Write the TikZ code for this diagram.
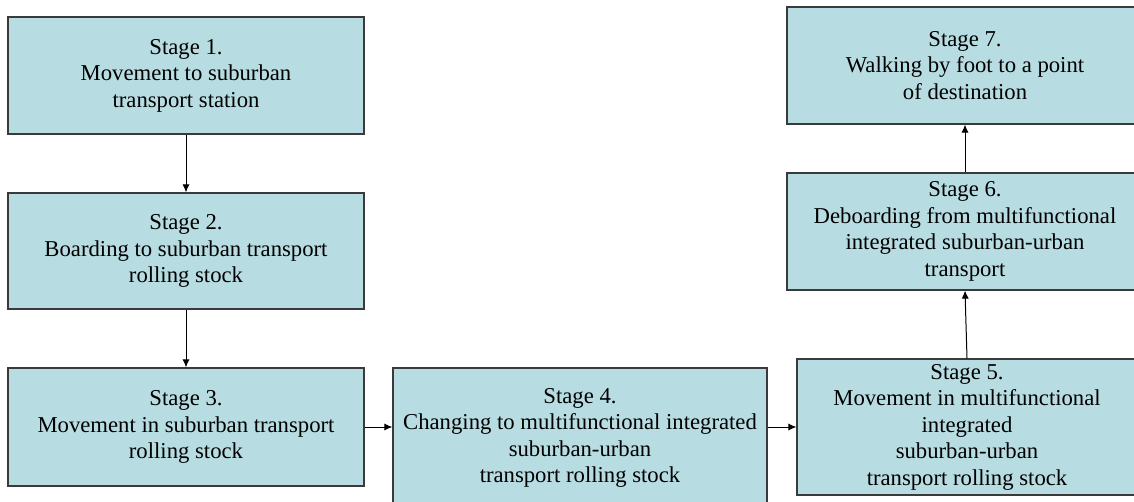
\documentclass[tikz,border=0pt]{standalone}
\usepackage{fontspec}
\setmainfont{Liberation Serif}
\usetikzlibrary{arrows.meta}
\definecolor{boxfill}{HTML}{B7DDE3}
\definecolor{boxline}{HTML}{3A3A3A}
\begin{document}
\begin{tikzpicture}[x=0.5pt,y=-0.5pt,
  stagebox/.style={draw=boxline,fill=boxfill,line width=0.65pt,inner sep=0pt,
    align=center,font=\fontsize{11.35pt}{13.25pt}\selectfont},
  flow/.style={draw=black,line width=0.5pt,-{Latex[length=4pt,width=3.6pt]}}]
\useasboundingbox (0,0) rectangle (1134,502);
\clip (0,0) rectangle (1134,502);
\fill[white] (0,0) rectangle (1134,502);
\node[stagebox,minimum width=178pt,minimum height=58.5pt] (b1) at (186,75.5)
  {Stage 1.\\Movement to suburban\\transport station};
\node[stagebox,minimum width=178pt,minimum height=58pt] (b2) at (186,251)
  {Stage 2.\\Boarding to suburban transport\\rolling stock};
\node[stagebox,minimum width=178pt,minimum height=59pt] (b3) at (186,427)
  {Stage 3.\\Movement in suburban transport\\rolling stock};
\node[stagebox,minimum width=187pt,minimum height=70pt] (b4) at (580,438)
  {Stage 4.\\Changing to multifunctional integrated\\suburban-urban\\transport rolling stock};
\node[stagebox,minimum width=170pt,minimum height=68pt] (b5) at (967,427)
  {Stage 5.\\Movement in multifunctional\\integrated\\suburban-urban\\transport rolling stock};
\node[stagebox,minimum width=178pt,minimum height=58.5pt] (b6) at (965,231.5)
  {Stage 6.\\Deboarding from multifunctional\\integrated suburban-urban\\transport};
\node[stagebox,minimum width=178pt,minimum height=58.5pt] (b7) at (965,65.5)
  {Stage 7.\\Walking by foot to a point\\of destination};
\draw[flow] (b1.south) -- (b2.north);
\draw[flow] (b2.south) -- (b3.north);
\draw[flow] (b3.east) -- (b3.east -| b4.west);
\draw[flow] (b4.east |- b5.west) -- (b5.west);
\draw[flow] (b5.north) -- (b6.south);
\draw[flow] (b6.north) -- (b7.south);
\end{tikzpicture}
\end{document}
